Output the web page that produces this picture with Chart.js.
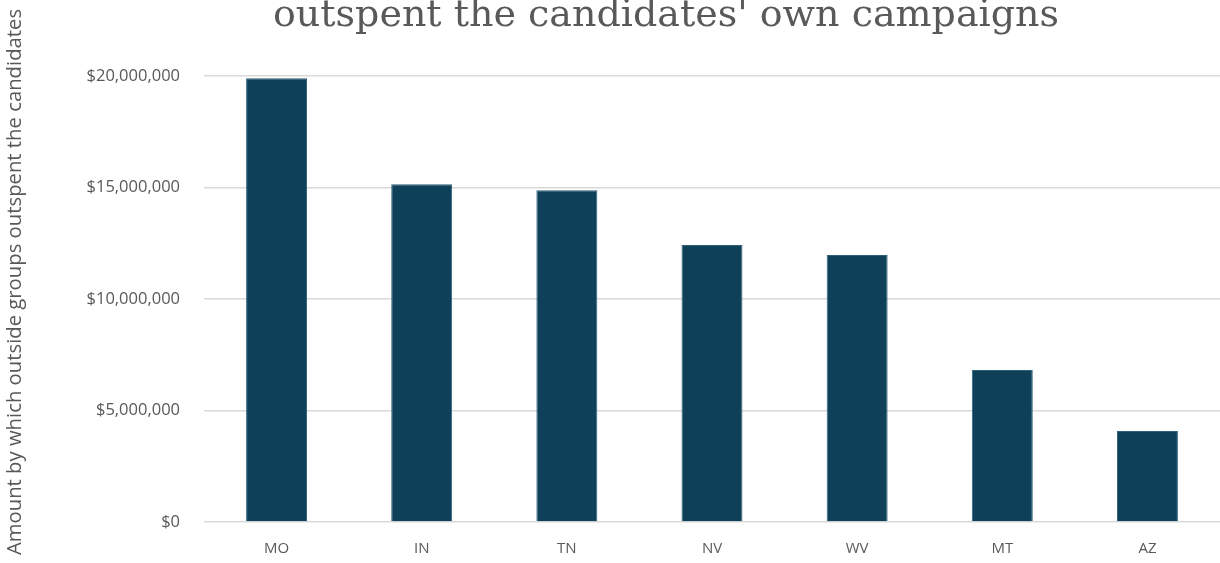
<!DOCTYPE html>
<html>
<head>
<meta charset="utf-8">
<script src="https://cdn.jsdelivr.net/npm/chart.js@4.4.1/dist/chart.umd.min.js"></script>
<style>
  html, body { margin: 0; padding: 0; background: #fff; }
  #wrap { position: relative; width: 1220px; height: 563px; overflow: hidden; }
  canvas { display: block; }
</style>
</head>
<body>
<div id="wrap"><canvas id="outsideChart" width="1220" height="563"></canvas></div>
<script>
var states = ['MO', 'IN', 'TN', 'NV', 'WV', 'MT', 'AZ'];
var outspentBy = [19900000, 15150000, 14880000, 12420000, 11970000, 6820000, 4080000];
var chartTitle = "outspent the candidates' own campaigns";
var axisTitle = 'Amount by which outside groups outspent the candidates';

var grey = '#595959';

// heading and rotated y axis caption, placed by hand so they can sit off-centre
var captions = {
  id: 'captions',
  afterDraw: function (chart) {
    var ctx = chart.ctx;
    ctx.save();
    ctx.fillStyle = grey;
    ctx.textAlign = 'center';

    ctx.font = '38px "DejaVu Serif"';
    ctx.textBaseline = 'alphabetic';
    ctx.fillText(chartTitle, 666, 26);

    ctx.translate(15, 282);
    ctx.rotate(-Math.PI / 2);
    ctx.font = '20.3px "Open Sans"';
    ctx.textBaseline = 'middle';
    ctx.fillText(axisTitle, 0, 0);
    ctx.restore();
  }
};

var outsideChart = new Chart(document.getElementById('outsideChart'), {
  type: 'bar',
  data: {
    labels: states,
    datasets: [{
      data: outspentBy,
      backgroundColor: '#0e405a',
      borderColor: '#2d5f78',
      borderWidth: 1,
      barPercentage: 0.42,
      categoryPercentage: 1
    }]
  },
  options: {
    responsive: false,
    animation: false,
    layout: { padding: { top: 76, left: 0, right: 0, bottom: 0 } },
    plugins: {
      legend: { display: false },
      tooltip: { enabled: false },
      title: { display: false }
    },
    scales: {
      x: {
        grid: { display: false },
        border: { display: false },
        ticks: {
          color: grey,
          padding: 10,
          font: { family: '"Open Sans"', size: 15 }
        },
        afterFit: function (scale) { scale.height = 41; }
      },
      y: {
        min: 0,
        max: 20000000,
        grid: { color: '#d9d9d9', lineWidth: 1.5, drawTicks: false },
        border: { display: false },
        ticks: {
          stepSize: 5000000,
          color: grey,
          padding: 24,
          font: { family: '"Open Sans"', size: 16.5 },
          callback: function (value) {
            return '$' + value.toLocaleString('en-US');
          }
        },
        afterFit: function (scale) { scale.width = 204; }
      }
    }
  },
  plugins: [captions]
});
</script>
</body>
</html>
